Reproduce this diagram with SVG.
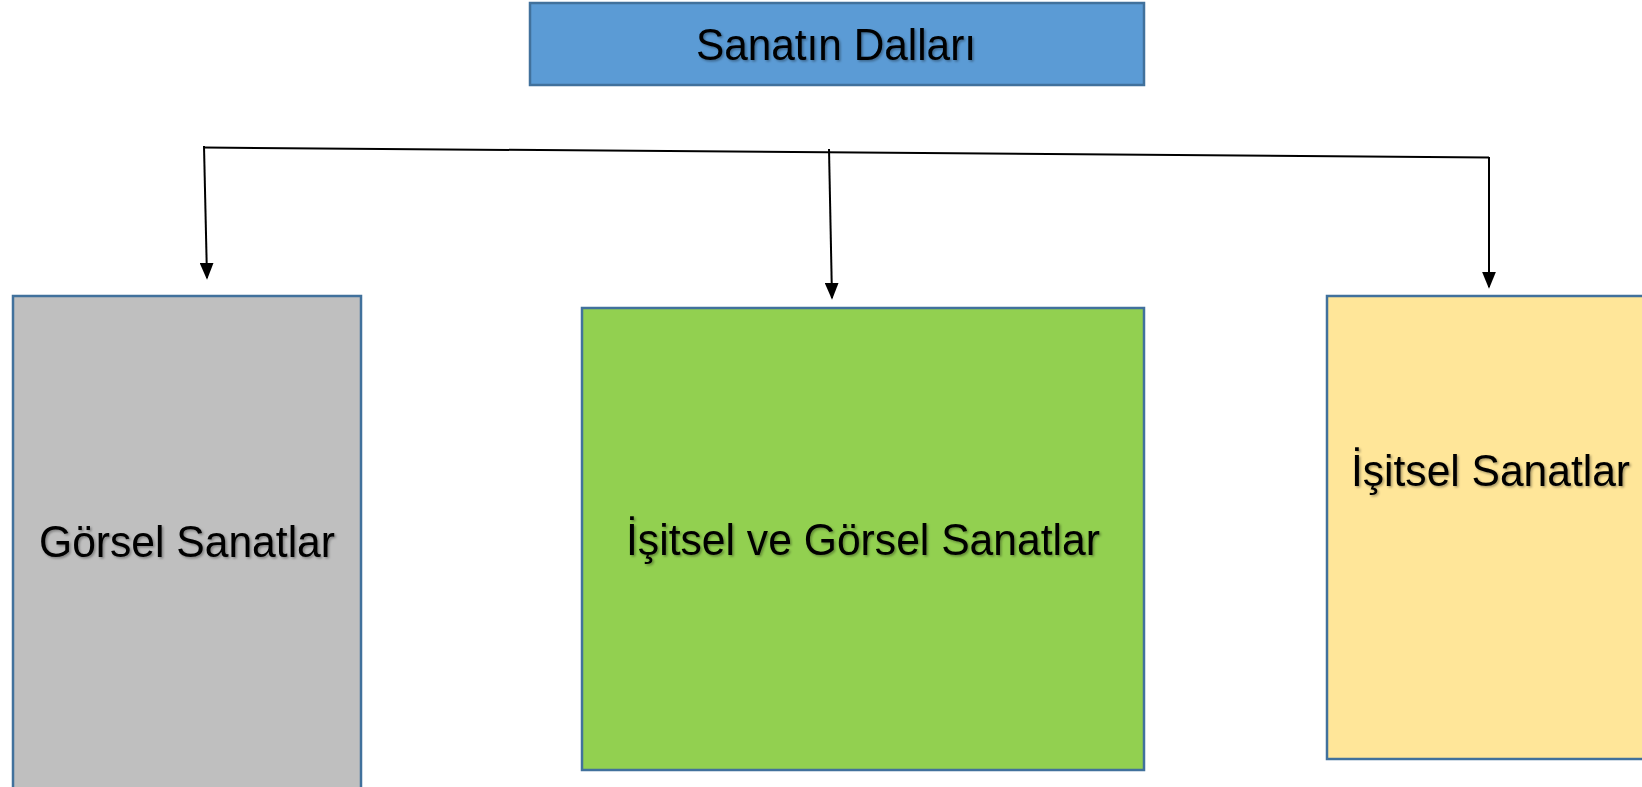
<svg xmlns="http://www.w3.org/2000/svg" width="1642" height="787" viewBox="0 0 1642 787">
<style>
.box{stroke:#41719C;stroke-width:2.5}
.lbl{font-family:"Liberation Sans",Arial,sans-serif;font-size:44px;fill:#000;filter:url(#sh)}
.con{stroke:#000;stroke-width:2;fill:none}
</style>
<defs>
<marker id="ah" viewBox="0 0 10 10" refX="9" refY="5" markerWidth="17" markerHeight="14" markerUnits="userSpaceOnUse" orient="auto" preserveAspectRatio="none">
<path d="M0,0 L10,5 L0,10 Z" fill="#000"/>
</marker>
<filter id="sh" x="-5%" y="-20%" width="110%" height="150%">
<feDropShadow dx="1.5" dy="1.5" stdDeviation="0.8" flood-color="#000" flood-opacity="0.35"/>
</filter>
</defs>
<rect width="1642" height="787" fill="#fff"/>
<g id="root">
<rect class="box" x="530" y="3" width="614" height="82" fill="#5B9BD5"/>
<text class="lbl" x="836" y="60" text-anchor="middle" textLength="280" lengthAdjust="spacingAndGlyphs">Sanatın Dalları</text>
</g>
<g id="gorsel">
<rect class="box" x="13" y="296" width="348" height="500" fill="#BFBFBF"/>
<text class="lbl" x="187" y="557" text-anchor="middle" textLength="296" lengthAdjust="spacingAndGlyphs">Görsel Sanatlar</text>
</g>
<g id="isitsel-gorsel">
<rect class="box" x="582" y="308" width="562" height="462" fill="#92D050"/>
<text class="lbl" x="863" y="555" text-anchor="middle" textLength="474" lengthAdjust="spacingAndGlyphs">İşitsel ve Görsel Sanatlar</text>
</g>
<g id="isitsel">
<rect class="box" x="1327" y="296" width="330" height="463" fill="#FFE699"/>
<text class="lbl" x="1351" y="486" textLength="279" lengthAdjust="spacingAndGlyphs">İşitsel Sanatlar</text>
</g>
<g id="connectors">
<line class="con" x1="204" y1="147.5" x2="1489" y2="157.5"/>
<line class="con" x1="204" y1="146" x2="207" y2="278" marker-end="url(#ah)"/>
<line class="con" x1="829" y1="149" x2="832" y2="298" marker-end="url(#ah)"/>
<line class="con" x1="1489" y1="157" x2="1489" y2="287" marker-end="url(#ah)"/>
</g>
</svg>
